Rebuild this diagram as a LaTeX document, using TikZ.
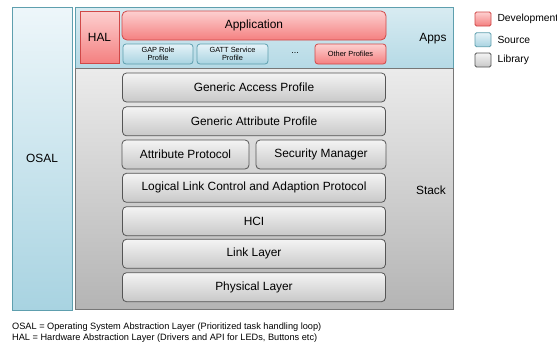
\documentclass[tikz,border=0pt]{standalone}
\usepackage{fontspec}
\setmainfont{Liberation Sans}
\usepackage{tikz}

\definecolor{devline}{HTML}{D04848}
\definecolor{devtop}{HTML}{FDD0D0}
\definecolor{devbot}{HTML}{F48080}
\definecolor{srcline}{HTML}{5E9FAE}
\definecolor{srctop}{HTML}{E6F3F8}
\definecolor{srcbot}{HTML}{A8D3E1}
\definecolor{libline}{HTML}{555555}
\definecolor{libtop}{HTML}{F4F4F4}
\definecolor{libbot}{HTML}{C8C8C8}

\begin{document}
\begin{tikzpicture}[x=1pt,y=-1pt]
\tikzstyle{devbox}=[draw=devline,thick,top color=devtop,bottom color=devbot,inner sep=0pt]
\tikzstyle{srcbox}=[draw=srcline,thick,top color=srctop,bottom color=srcbot,inner sep=0pt]
\tikzstyle{libbox}=[draw=libline,thick,top color=libtop,bottom color=libbot,inner sep=0pt]
\tikzstyle{layer}=[libbox,rounded corners=4pt,minimum width=263pt,minimum height=29pt,font=\fontsize{11.9}{13}\selectfont]
\tikzstyle{profile}=[rounded corners=3pt,minimum height=20pt,align=center,font=\fontsize{7.4}{8}\selectfont]
\tikzstyle{key}=[rounded corners=1.5pt,minimum width=16pt,minimum height=14pt]
\tikzstyle{label}=[font=\fontsize{11.9}{13}\selectfont]

\useasboundingbox (0,0) rectangle (557,349);

    % Containers
    \node [srcbox,minimum width=60pt,minimum height=303pt,top color=srctop!70!white] (osal) at (42,158.5) {};
    \node [srcbox,minimum width=378pt,minimum height=61pt,top color=srcbot!45!white,bottom color=srcbot!85!white] (apps) at (264,37.8) {};
    \node [libbox,draw=libline!80,minimum width=378pt,minimum height=241pt,top color=libtop!80!libbot,bottom color=libbot!90!black] (stack) at (264,189) {};

    \node [label] (osal_lbl) at (osal.center) {OSAL};
    \node [label] (apps_lbl) at (433,39) {Apps};
    \node [label] (stack_lbl) at (431,190) {Stack};

    % Apps
    \node [devbox,minimum width=39pt,minimum height=52pt,label] (hal) at (99.5,37) {HAL};
    \node [devbox,rounded corners=5pt,minimum width=264pt,minimum height=29pt,label] (app) at (254,25.5) {Application};
    \node [srcbox,profile,minimum width=70pt] (gap_role) at (158,54) {GAP Role\\Profile};
    \node [srcbox,profile,minimum width=71pt] (gatt_srv) at (232.5,54) {GATT Service\\Profile};
    \node [font=\fontsize{9}{10}\selectfont] (etc) at (295,53) {...};
    \node [devbox,profile,minimum width=71pt] (other) at (350.5,54) {Other Profiles};

    % Stack layers
    \node [layer] (gap) at (254,87.5) {Generic Access Profile};
    \node [layer] (gatt) at (254,121.3) {Generic Attribute Profile};
    \node [layer,minimum width=127pt] (att) at (185.5,154.5) {Attribute Protocol};
    \node [layer,minimum width=130pt] (sm) at (321,154.5) {Security Manager};
    \node [layer] (l2cap) at (254,187.8) {Logical Link Control and Adaption Protocol};
    \node [layer] (hci) at (254,221.2) {HCI};
    \node [layer] (ll) at (254,253.8) {Link Layer};
    \node [layer] (phy) at (254,287.2) {Physical Layer};

    % Legend
    \node [devbox,key] (key_dev) at (483,19) {};
    \node [srcbox,key] (key_src) at (483,39.7) {};
    \node [libbox,key] (key_lib) at (483,60) {};
    \node [anchor=west,font=\fontsize{10.3}{12}\selectfont] at (494,19) {Development};
    \node [anchor=west,font=\fontsize{10.3}{12}\selectfont] at (494,39.7) {Source};
    \node [anchor=west,font=\fontsize{10.3}{12}\selectfont] at (494,60) {Library};

    % Notes
    \node [anchor=west,inner sep=0pt,font=\fontsize{9.2}{10}\selectfont] (note_osal) at (12,326.7) {OSAL = Operating System Abstraction Layer (Prioritized task handling loop)};
    \node [anchor=west,inner sep=0pt,font=\fontsize{9.2}{10}\selectfont] (note_hal) at (12,338.3) {HAL = Hardware Abstraction Layer (Drivers and API for LEDs, Buttons etc)};
\end{tikzpicture}
\end{document}
